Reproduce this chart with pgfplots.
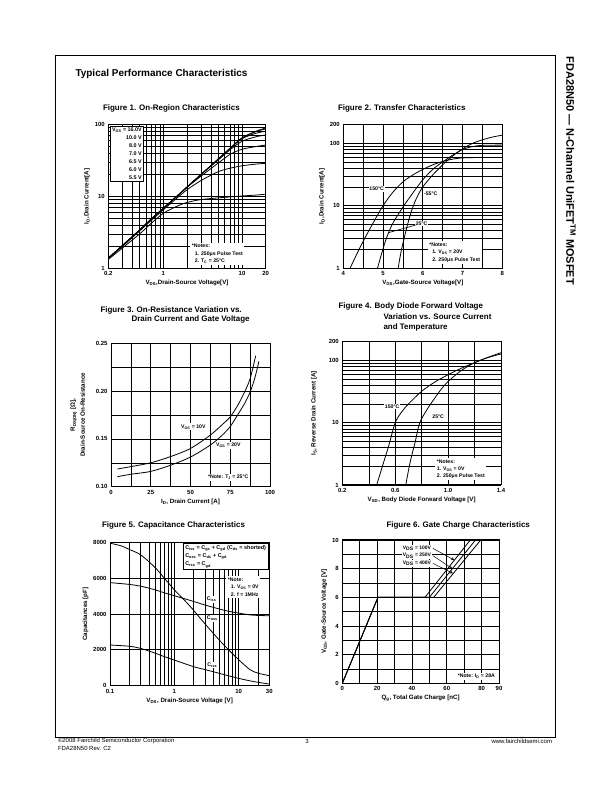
\documentclass[border=0pt]{standalone}
\usepackage{fontspec}
\setmainfont{Liberation Sans}
\usepackage{pgfplots}
\pgfplotsset{compat=1.18}

\pgfplotsset{
 ds/.style={
   scale only axis,
   anchor=north west,
   axis line style={line width=1bp},
   grid=both,
   major grid style={line width=0.75bp, black},
   minor grid style={line width=0.4bp, black},
   major tick length=0pt, minor tick length=0pt,
   tick label style={font=\fontsize{6}{6.5}\selectfont\bfseries},
   label style={font=\fontsize{6.2}{7}\selectfont\bfseries},
   /pgf/number format/assume math mode=true,
   xlabel style={yshift=2.5pt},
   ylabel style={yshift=-2pt},
   cycle list={{black,solid,no marks}},
   every axis plot/.append style={smooth},
   every axis plot post/.append style={line width=0.8bp, black, solid, no marks},
 },
}
\tikzset{nt/.style={fill=white, align=left, inner sep=1.5pt, font=\fontsize{5.2}{7.5}\selectfont\bfseries}}

\begin{document}
\begin{tikzpicture}[x=1bp,y=1bp]
\path[use as bounding box] (0,0) rectangle (612,792);
\fill[white] (0,0) rectangle (612,792);
\draw[line width=0.9bp] (55,55) rectangle (555,737);

\node[anchor=west, font=\fontsize{10}{12}\selectfont\bfseries] at (72,718.5) {Typical Performance Characteristics};
\node[rotate=-90, anchor=west, font=\fontsize{11}{13}\selectfont\bfseries] at (571,739) {FDA28N50 — N-Channel UniFET\textsuperscript{TM} MOSFET};

\node[anchor=west, font=\fontsize{6}{7}\selectfont] at (54.5,51) {©2008 Fairchild Semiconductor Corporation};
\node[anchor=west, font=\fontsize{6}{7}\selectfont] at (54.5,44) {FDA28N50 Rev. C2};
\node[font=\fontsize{6}{7}\selectfont] at (307,51) {3};
\node[anchor=east, font=\fontsize{6}{7}\selectfont] at (555.5,51) {www.fairchildsemi.com};

% titles
\tikzset{ft/.style={anchor=west, font=\fontsize{8}{9.5}\selectfont\bfseries}}
\node[ft] at (99.5,684) {Figure 1. On-Region Characteristics};
\node[ft] at (334.5,684) {Figure 2. Transfer Characteristics};
\node[ft] at (97,482) {Figure 3. On-Resistance Variation vs.};
\node[ft] at (128,473) {Drain Current and Gate Voltage};
\node[ft] at (335,485.5) {Figure 4. Body Diode Forward Voltage};
\node[ft] at (380,475) {Variation vs. Source Current};
\node[ft] at (380,465) {and Temperature};
\node[ft] at (98.5,267) {Figure 5. Capacitance Characteristics};
\node[ft] at (383,267) {Figure 6. Gate Charge Characteristics};

% ---------------- Figure 1
\begin{axis}[ds, at={(108.3bp,667.7bp)}, width=157.4bp, height=144bp,
 xmode=log, ymode=log, xmin=0.2, xmax=20, ymin=1, ymax=100,
 xtick={0.2,1,10,20}, xticklabels={0.2,1,10,20},
 minor xtick={0.3,0.4,0.5,0.6,0.7,0.8,0.9,2,3,4,5,6,7,8,9},
 ytick={1,10,100}, yticklabels={1,10,100},
 minor ytick={2,3,4,5,6,7,8,9,20,30,40,50,60,70,80,90},
 xlabel={V\textsubscript{DS},Drain-Source Voltage[V]},
 ylabel={I\textsubscript{D},Drain Current[A]}]
\addplot coordinates {(0.2,1.38)(0.3,2.05)(0.5,3.4)(0.7,4.8)(1,6.8)(1.5,10.1)(2,13.4)(3,20)(5,33)(7,46)(10,65)(15,80)(20,89)};
\addplot coordinates {(0.2,1.38)(0.3,2.05)(0.5,3.4)(0.7,4.8)(1,6.8)(1.5,10.1)(2,13.4)(3,20)(5,33)(7,46)(10,64)(15,79)(20,86)};
\addplot coordinates {(0.2,1.38)(0.3,2.05)(0.5,3.4)(0.7,4.8)(1,6.8)(1.5,10.1)(2,13.4)(3,20)(5,33)(7,46)(10,63)(15,75)(20,80)};
\addplot coordinates {(0.2,1.38)(0.3,2.05)(0.5,3.4)(0.7,4.8)(1,6.8)(1.5,10.1)(2,13.4)(3,20)(5,32)(7,44)(10,58)(15,67)(20,71)};
\addplot coordinates {(0.2,1.38)(0.3,2.05)(0.5,3.4)(0.7,4.8)(1,6.8)(1.5,10.1)(2,13.3)(3,19)(5,29)(7,38)(10,45)(15,49)(20,51.6)};
\addplot coordinates {(0.2,1.36)(0.3,2.0)(0.5,3.3)(0.7,4.6)(1,6.5)(1.5,9.5)(2,12.3)(3,16.5)(5,22)(7,24.5)(10,26.5)(15,28)(20,28.7)};
\addplot coordinates {(0.2,1.33)(0.3,1.9)(0.5,3.0)(0.7,4.2)(1,5.8)(1.5,7.3)(2,8.2)(3,9.0)(5,9.5)(7,9.8)(10,10.1)(15,10.4)(20,10.7)};
\node[draw, fill=white, line width=0.8bp, align=right, inner sep=1.5pt, anchor=north west,
  font=\fontsize{5.4}{8}\selectfont\bfseries] at (rel axis cs:0.012,0.988)
  {V\textsubscript{GS} = 16.0V\\10.0 V\\8.0 V\\7.0 V\\6.5 V\\6.0 V\\5.5 V};
\node[nt, anchor=south west] at (rel axis cs:0.52,0.02)
  {*Notes:\\\hspace*{3pt}1. 250μs Pulse Test\\\hspace*{3pt}2. T\textsubscript{C} = 25°C};
\end{axis}

% ---------------- Figure 2
\begin{axis}[ds, at={(343.3bp,667.7bp)}, width=159bp, height=144bp,
 ymode=log, xmin=4, xmax=8, ymin=1, ymax=200,
 xtick={4,5,6,7,8}, minor xtick={4.5,5.5,6.5,7.5},
 ytick={1,10,100,200}, yticklabels={1,10,100,200},
 minor ytick={2,3,4,5,6,7,8,9,20,30,40,50,60,70,80,90},
 xlabel={V\textsubscript{GS},Gate-Source Voltage[V]},
 ylabel={I\textsubscript{D},Drain Current[A]}]
\addplot coordinates {(4.17,1)(4.3,1.5)(4.5,2.7)(4.75,5.3)(5.0,10)(5.25,16.5)(5.5,24)(5.75,31)(6.0,38)(6.25,45)(6.5,51)(6.75,55.5)(7.0,58)(7.5,59)(8.0,59)};
\addplot coordinates {(4.86,1)(4.95,1.6)(5.05,2.6)(5.13,3.6)(5.25,5.3)(5.5,9.5)(5.75,16)(6.0,26)(6.25,38)(6.5,50)(6.75,64)(7.0,79)(7.25,88)(7.5,92)(8.0,93)};
\addplot coordinates {(5.38,1)(5.45,1.8)(5.55,3.4)(5.65,6)(5.75,9.5)(5.85,13.5)(6.0,20)(6.25,31)(6.5,45)(6.75,62)(7.0,81)(7.25,99)(7.5,113)(7.75,125)(8.0,134)};
\node[fill=white, inner sep=0.8pt, font=\fontsize{5.2}{6}\selectfont\bfseries] at (rel axis cs:0.21,0.55) {150°C};
\node[fill=white, inner sep=0.8pt, font=\fontsize{5.2}{6}\selectfont\bfseries] at (rel axis cs:0.55,0.516) {-55°C};
\node[fill=white, inner sep=0.8pt, anchor=west, font=\fontsize{5.2}{6}\selectfont\bfseries] at (rel axis cs:0.45,0.3125) {25°C};
\draw[line width=0.6bp] (rel axis cs:0.455,0.30) -- (rel axis cs:0.283,0.247);
\node[nt, anchor=south west] at (rel axis cs:0.53,0.03)
  {*Notes:\\\hspace*{3pt}1. V\textsubscript{DS} = 20V\\\hspace*{3pt}2. 250μs Pulse Test};
\end{axis}

% ---------------- Figure 3
\begin{axis}[ds, at={(111bp,448.7bp)}, width=159bp, height=143.4bp,
 xmin=0, xmax=100, ymin=0.10, ymax=0.25,
 xtick={0,25,50,75,100}, minor xtick={12.5,37.5,62.5,87.5},
 ytick={0.10,0.15,0.20,0.25}, yticklabels={0.10,0.15,0.20,0.25},
 minor ytick={0.125,0.175,0.225},
 xlabel={I\textsubscript{D}, Drain Current [A]},
 ylabel={R\textsubscript{DS(ON)} [Ω],\\Drain-Source On-Resistance},
 ylabel style={align=center, yshift=6bp, font=\fontsize{6.2}{10}\selectfont\bfseries}]
\addplot coordinates {(4,0.1185)(12.5,0.121)(25,0.125)(37.5,0.1315)(50,0.140)(62.5,0.154)(70,0.165)(75,0.173)(80,0.186)(84,0.199)(87.5,0.213)(91,0.237)};
\addplot coordinates {(4,0.1105)(12.5,0.113)(25,0.116)(37.5,0.1225)(50,0.131)(62.5,0.1436)(70,0.154)(75,0.163)(80,0.176)(84,0.187)(87.5,0.199)(90.5,0.214)(93,0.231)};
\node[fill=white, inner sep=1pt, font=\fontsize{5.2}{6}\selectfont\bfseries] at (rel axis cs:0.518,0.418) {V\textsubscript{GS} = 10V};
\node[fill=white, inner sep=1pt, font=\fontsize{5.2}{6}\selectfont\bfseries] at (rel axis cs:0.738,0.286) {V\textsubscript{GS} = 20V};
\node[nt, anchor=west] at (rel axis cs:0.6,0.065) {*Note: T\textsubscript{J} = 25°C};
\end{axis}

% ---------------- Figure 4
\begin{axis}[ds, at={(342.3bp,450.3bp)}, width=158.7bp, height=143.3bp,
 ymode=log, xmin=0.2, xmax=1.4, ymin=1, ymax=200,
 xtick={0.2,0.6,1.0,1.4}, xticklabels={0.2,0.6,1.0,1.4}, minor xtick={0.4,0.8,1.2},
 ytick={1,10,100,200}, yticklabels={1,10,100,200},
 minor ytick={2,3,4,5,6,7,8,9,20,30,40,50,60,70,80,90},
 xlabel={V\textsubscript{SD}, Body Diode Forward Voltage [V]},
 ylabel={I\textsubscript{S}, Reverse Drain Current [A]},
 ylabel style={yshift=7bp}]
\addplot coordinates {(0.46,1)(0.5,1.9)(0.55,4.2)(0.6,10)(0.65,15)(0.7,20)(0.8,32)(0.9,45)(1.0,59)(1.1,75)(1.2,92)(1.3,112)(1.4,133)};
\addplot coordinates {(0.68,1)(0.7,1.7)(0.72,2.7)(0.75,4.8)(0.786,10)(0.85,17.5)(0.9,25)(0.95,35)(1.0,46)(1.1,69)(1.2,92)(1.3,111)(1.4,127)};
\node[fill=white, inner sep=0.8pt, font=\fontsize{5.2}{6}\selectfont\bfseries] at (rel axis cs:0.314,0.546) {150°C};
\node[fill=white, inner sep=0.8pt, font=\fontsize{5.2}{6}\selectfont\bfseries] at (rel axis cs:0.604,0.477) {25°C};
\node[nt, anchor=south west] at (rel axis cs:0.585,0.03)
  {*Notes:\\1. V\textsubscript{GS} = 0V\\2. 250μs Pulse Test};
\end{axis}

% ---------------- Figure 5
\begin{axis}[ds, at={(110bp,249.7bp)}, width=159.3bp, height=143.4bp,
 xmode=log, xmin=0.1, xmax=30, ymin=0, ymax=8000,
 xtick={0.1,1,10,30}, xticklabels={0.1,1,10,30},
 minor xtick={0.2,0.3,0.4,0.5,0.6,0.7,0.8,0.9,2,3,4,5,6,7,8,9,20},
 ytick={0,2000,4000,6000,8000}, yticklabels={0,2000,4000,6000,8000},
 xlabel={V\textsubscript{DS}, Drain-Source Voltage [V]},
 ylabel={Capacitances [pF]}]
\addplot coordinates {(0.1,5750)(0.2,5650)(0.3,5550)(0.5,5350)(0.7,5180)(1,5020)(2,4700)(3,4500)(5,4280)(7,4150)(10,4050)(15,3950)(20,3920)(30,3900)};
\addplot coordinates {(0.1,7950)(0.15,7800)(0.2,7600)(0.3,7300)(0.5,6600)(0.7,6000)(1,5350)(1.5,4700)(2,4200)(3,3450)(5,2550)(7,2000)(10,1450)(15,900)(20,700)(30,560)};
\addplot coordinates {(0.1,2270)(0.2,2200)(0.3,2080)(0.5,1820)(0.7,1620)(1,1430)(2,1060)(3,900)(5,690)(7,550)(10,410)(15,270)(20,190)(30,90)};
\node[fill=white, inner sep=0.8pt, font=\fontsize{5.3}{6}\selectfont\bfseries] at (axis cs:3.8,4800) {C\textsubscript{iss}};
\node[fill=white, inner sep=0.8pt, font=\fontsize{5.3}{6}\selectfont\bfseries] at (axis cs:3.9,3750) {C\textsubscript{oss}};
\node[fill=white, inner sep=0.8pt, font=\fontsize{5.3}{6}\selectfont\bfseries] at (axis cs:3.9,1150) {C\textsubscript{rss}};
\node[draw, fill=white, line width=0.9bp, align=left, inner sep=2pt, anchor=north east,
  font=\fontsize{5.5}{8.3}\selectfont\bfseries] at (rel axis cs:0.995,0.995)
  {C\textsubscript{iss} = C\textsubscript{gs} + C\textsubscript{gd} (C\textsubscript{ds} = shorted)\\C\textsubscript{oss} = C\textsubscript{ds} + C\textsubscript{gd}\\C\textsubscript{rss} = C\textsubscript{gd}};
\node[nt, anchor=north west] at (rel axis cs:0.73,0.765)
  {*Note:\\\hspace*{3pt}1. V\textsubscript{GS} = 0V\\\hspace*{3pt}2. f = 1MHz};
\end{axis}

% ---------------- Figure 6
\begin{axis}[ds, at={(342.3bp,252bp)}, width=156.7bp, height=143.3bp,
 xmin=0, xmax=90, ymin=0, ymax=10,
 xtick={0,20,40,60,80,90}, minor xtick={10,30,50,70},
 ytick={0,2,4,6,8,10}, minor ytick={1,3,5,7,9},
 major grid style={line width=0.6bp, black},
 minor grid style={line width=0.5bp, black},
 xlabel={Q\textsubscript{g}, Total Gate Charge [nC]},
 ylabel={V\textsubscript{GS}, Gate-Source Voltage [V]}]
\addplot[sharp plot] coordinates {(0,0)(20.5,6)(47.5,6)(73.5,10)};
\addplot[sharp plot] coordinates {(0,0)(20.5,6)(50,6)(76.5,10)};
\addplot[sharp plot] coordinates {(0,0)(20.5,6)(52.5,6)(79.5,10)};
\node[fill=white, inner sep=0.8pt, anchor=east, font=\fontsize{5}{6}\selectfont\bfseries] at (axis cs:51.5,9.42) {V\textsubscript{DS} = 100V};
\node[fill=white, inner sep=0.8pt, anchor=east, font=\fontsize{5}{6}\selectfont\bfseries] at (axis cs:51.5,8.91) {V\textsubscript{DS} = 250V};
\node[fill=white, inner sep=0.8pt, anchor=east, font=\fontsize{5}{6}\selectfont\bfseries] at (axis cs:51.5,8.37) {V\textsubscript{DS} = 400V};
\draw[->, >=stealth, line width=0.5bp] (axis cs:52,9.42) -- (axis cs:64.3,8.6);
\draw[->, >=stealth, line width=0.5bp] (axis cs:52,8.91) -- (axis cs:63.2,8.0);
\draw[->, >=stealth, line width=0.5bp] (axis cs:52,8.37) -- (axis cs:63.6,7.67);
\node[nt, anchor=south east] at (rel axis cs:0.985,0.02) {*Note: I\textsubscript{D} = 28A};
\end{axis}
\end{tikzpicture}
\end{document}
